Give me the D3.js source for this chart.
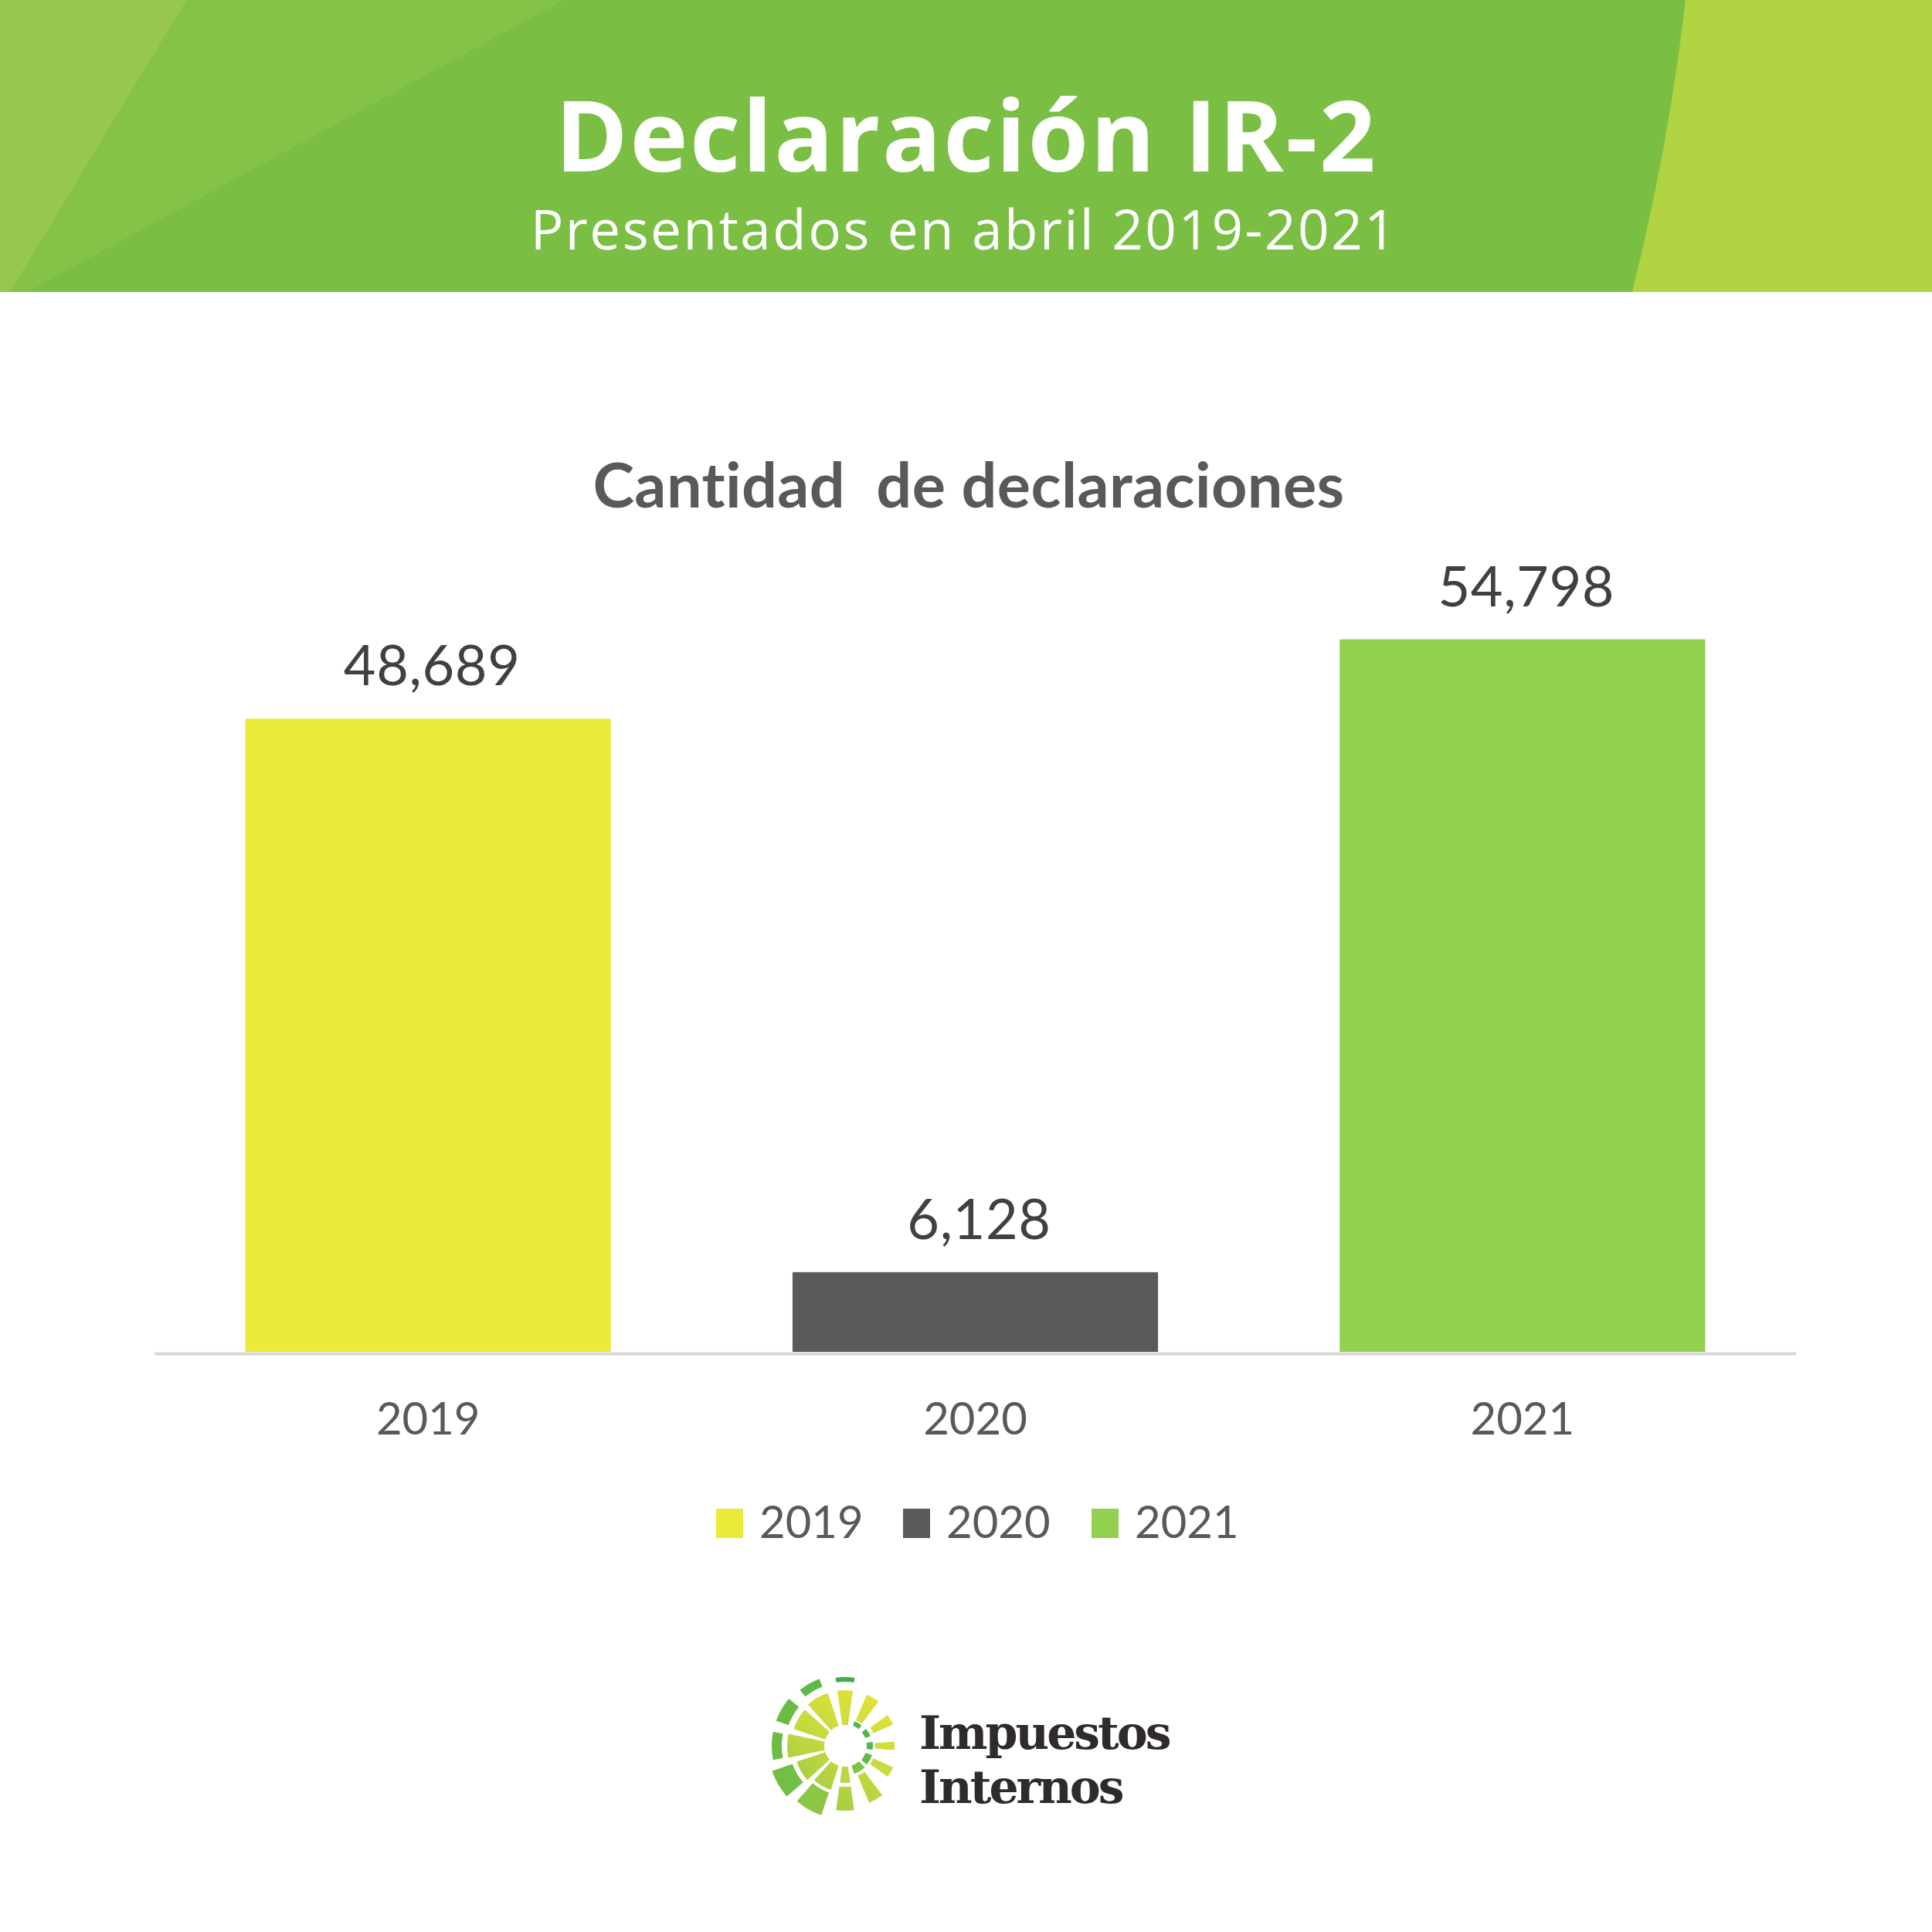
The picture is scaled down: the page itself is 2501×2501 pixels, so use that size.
<!DOCTYPE html>
<html>
<head>
<meta charset="utf-8">
<script src="https://cdn.jsdelivr.net/npm/d3@7"></script>
<style>
  body { margin: 0; background: #fff; }
  svg { display: block; }
</style>
</head>
<body>
<div class="canvas"></div>
<script>
// what to show
var years = ['2019', '2020', '2021'],
    counts = [48689, 6128, 54798],
    barColors = ['#ebe93a', '#5a5a5a', '#92d050'];

// where does it live
var W = 2501, H = 2501;

var svg = d3.select('.canvas').append('svg')
    .attr('width', W)
    .attr('height', H);

// header band
var header = svg.append('g');
header.append('rect')
    .attr('width', W).attr('height', 378)
    .attr('fill', '#7abf44');
header.append('path')
    .attr('d', 'M0,0 L242,0 L13,378 L0,378 Z')
    .attr('fill', '#97c74e');
header.append('path')
    .attr('d', 'M242,0 L730,0 L35,378 L13,378 Z')
    .attr('fill', '#85c248');
header.append('path')
    .attr('d', 'M2182,0 L' + W + ',0 L' + W + ',378 L2113,378 Q2160,190 2182,0 Z')
    .attr('fill', '#b2d342');

header.append('text')
    .attr('x', 1251).attr('y', 222)
    .attr('text-anchor', 'middle')
    .attr('font-family', 'Open Sans')
    .attr('font-weight', 700)
    .attr('font-size', 127)
    .attr('letter-spacing', 2.6)
    .attr('fill', '#fff')
    .text('Declaración IR-2');

header.append('text')
    .attr('x', 1248).attr('y', 323)
    .attr('text-anchor', 'middle')
    .attr('font-family', 'Open Sans')
    .attr('font-size', 71)
    .attr('letter-spacing', 2.5)
    .attr('fill', '#fff')
    .text('Presentados en abril 2019-2021');

// chart title
svg.append('text')
    .attr('x', 1254).attr('y', 657)
    .attr('text-anchor', 'middle')
    .attr('font-family', 'Lato')
    .attr('font-weight', 700)
    .attr('font-size', 81)
    .attr('letter-spacing', 0.4)
    .attr('fill', '#595959')
    .style('white-space', 'pre')
    .text('Cantidad  de declaraciones');

// scales
var x = d3.scaleBand()
    .domain(years)
    .range([200, 2325])
    .paddingInner(0.332)
    .paddingOuter(0.166);

var y = d3.scaleLinear()
    .domain([0, 60000])
    .range([1750, 740]);

var color = d3.scaleOrdinal().domain(years).range(barColors);

var data = years.map(function (yr, i) {
    return { year: yr, value: counts[i] };
});

var chart = svg.append('g');

chart.selectAll('rect.bar')
    .data(data)
    .enter()
    .append('rect')
    .attr('class', 'bar')
    .attr('x', function (d) { return x(d.year); })
    .attr('width', x.bandwidth())
    .attr('y', function (d) { return y(d.value); })
    .attr('height', function (d) { return y(0) - y(d.value); })
    .attr('fill', function (d) { return color(d.year); });

chart.selectAll('text.value')
    .data(data)
    .enter()
    .append('text')
    .attr('class', 'value')
    .attr('x', function (d) { return x(d.year) + x.bandwidth() / 2 + 5; })
    .attr('y', function (d) { return y(d.value) - 43; })
    .attr('text-anchor', 'middle')
    .attr('font-family', 'Lato')
    .attr('font-size', 72)
    .attr('letter-spacing', 0.6)
    .attr('fill', '#404040')
    .text(function (d) { return d3.format(',')(d.value); });

// x axis
var axis = chart.append('g')
    .attr('transform', 'translate(0,' + (y(0) + 2) + ')')
    .call(d3.axisBottom(x).tickSize(0).tickPadding(105));
axis.select('.domain')
    .attr('stroke', '#d9d9d9')
    .attr('stroke-width', 4);
axis.selectAll('text')
    .attr('font-family', 'Lato')
    .attr('font-size', 58)
    .attr('fill', '#595959')
    .attr('dy', 0);

// legend
var legendX = [927, 1169, 1413];
var legend = svg.append('g').selectAll('g')
    .data(years)
    .enter()
    .append('g')
    .attr('transform', function (d, i) {
        return 'translate(' + legendX[i] + ',1991)';
    });
legend.append('rect')
    .attr('y', -38).attr('width', 35).attr('height', 38)
    .attr('fill', function (d) { return color(d); });
legend.append('text')
    .attr('x', 56)
    .attr('font-family', 'Lato')
    .attr('font-size', 58)
    .attr('fill', '#595959')
    .text(function (d) { return d; });

// logo
var logo = svg.append('g').attr('transform', 'translate(1094,2260)');
var grad = svg.append('defs').append('linearGradient')
    .attr('id', 'sun')
    .attr('gradientUnits', 'userSpaceOnUse')
    .attr('x1', 60).attr('y1', -80).attr('x2', -60).attr('y2', 90);
grad.append('stop').attr('offset', 0).attr('stop-color', '#e8e537');
grad.append('stop').attr('offset', 0.5).attr('stop-color', '#c8da3d');
grad.append('stop').attr('offset', 1).attr('stop-color', '#93c846');

// angle (deg from top), half width (deg), inner r, outer r, fill
var rays = [
    [0, 8, 27, 72, 'url(#sun)'], [0, 8, 83, 89, '#3fae49'],
    [30, 7, 36, 72, 'url(#sun)'], [30, 9, 28, 34, '#4fb848'],
    [60, 6, 40, 68, 'url(#sun)'], [60, 9, 28, 35, '#4fb848'],
    [90, 5, 39, 64, 'url(#sun)'], [90, 8, 28, 36, '#4fb848'],
    [120, 6, 40, 68, 'url(#sun)'], [120, 11, 28, 37, '#5fb947'],
    [150, 7, 42, 80, 'url(#sun)'], [150, 12, 27, 38, '#7fc246'],
    [180, 8, 27, 48, 'url(#sun)'], [180, 8, 53, 84, 'url(#sun)'],
    [210, 12, 27, 60, 'url(#sun)'], [210, 11, 64, 95, '#8dc645'],
    [240, 12, 27, 66, 'url(#sun)'], [240, 11, 72, 100, '#72bf45'],
    [270, 12, 27, 75, 'url(#sun)'], [270, 11, 82, 95, '#6dbd45'],
    [300, 12, 27, 70, 'url(#sun)'], [300, 10, 78, 95, '#6abc45'],
    [330, 12, 27, 72, 'url(#sun)'], [330, 9, 82, 93, '#5fb946']
];
var arc = d3.arc();
logo.selectAll('path')
    .data(rays)
    .enter()
    .append('path')
    .attr('d', function (r) {
        var a = r[0] * Math.PI / 180, w = r[1] * Math.PI / 180;
        return arc({ innerRadius: r[2], outerRadius: r[3], startAngle: a - w, endAngle: a + w });
    })
    .attr('fill', function (r) { return r[4]; });

svg.append('text')
    .attr('x', 1190).attr('y', 2264)
    .attr('font-family', 'DejaVu Serif')
    .attr('font-weight', 700)
    .attr('font-size', 60)
    .attr('letter-spacing', -3)
    .attr('fill', '#2f2a2b')
    .text('Impuestos');
svg.append('text')
    .attr('x', 1190).attr('y', 2334)
    .attr('font-family', 'DejaVu Serif')
    .attr('font-weight', 700)
    .attr('font-size', 60)
    .attr('letter-spacing', -3)
    .attr('fill', '#2f2a2b')
    .text('Internos');
</script>
</body>
</html>
